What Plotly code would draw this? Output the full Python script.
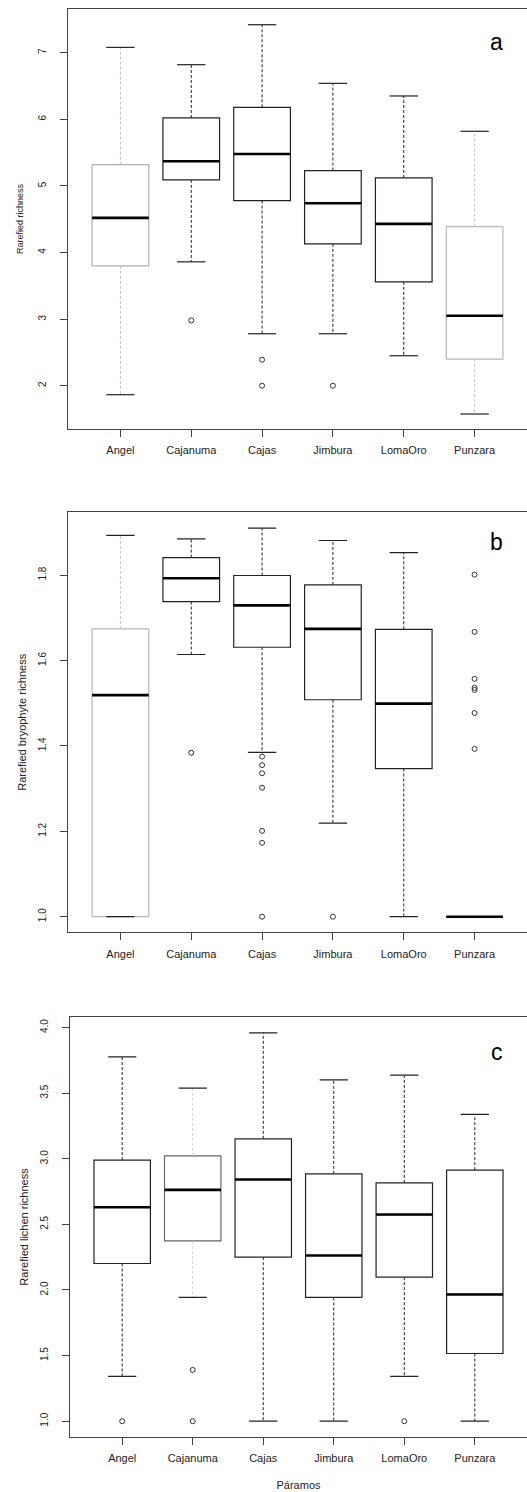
import plotly.graph_objects as go

# ---------------- data ----------------
categories = ["Angel", "Cajanuma", "Cajas", "Jimbura", "LomaOro", "Punzara"]

# panel a: rarefied richness
a_lower = [1.865, 3.86, 2.78, 2.78, 2.45, 1.575]
a_q1 = [3.80, 5.09, 4.78, 4.13, 3.56, 2.40]
a_median = [4.52, 5.37, 5.48, 4.74, 4.43, 3.05]
a_q3 = [5.32, 6.02, 6.18, 5.23, 5.12, 4.39]
a_upper = [7.08, 6.82, 7.42, 6.54, 6.35, 5.82]
a_out_cat = ["Cajanuma", "Cajas", "Cajas", "Jimbura"]
a_out_val = [2.98, 2.39, 2.0, 2.0]
a_ticks = [2, 3, 4, 5, 6, 7]
a_ticktext = ["2", "3", "4", "5", "6", "7"]

# panel b: rarefied bryophyte richness
b_lower = [1.0, 1.614, 1.385, 1.219, 1.0, 1.0]
b_q1 = [1.0, 1.738, 1.631, 1.508, 1.347, 1.0]
b_median = [1.519, 1.7925, 1.729, 1.674, 1.499, 1.0]
b_q3 = [1.674, 1.841, 1.799, 1.777, 1.673, 1.0]
b_upper = [1.893, 1.885, 1.910, 1.881, 1.8525, 1.0]
b_out_cat = ["Cajanuma",
             "Cajas", "Cajas", "Cajas", "Cajas", "Cajas", "Cajas", "Cajas",
             "Jimbura",
             "Punzara", "Punzara", "Punzara", "Punzara", "Punzara", "Punzara", "Punzara"]
b_out_val = [1.384,
             1.375, 1.355, 1.336, 1.302, 1.201, 1.173, 1.0,
             1.0,
             1.801, 1.667, 1.557, 1.536, 1.531, 1.477, 1.393]
b_ticks = [1.0, 1.2, 1.4, 1.6, 1.8]
b_ticktext = ["1.0", "1.2", "1.4", "1.6", "1.8"]

# panel c: rarefied lichen richness
c_lower = [1.341, 1.943, 1.0, 1.0, 1.341, 1.0]
c_q1 = [2.202, 2.374, 2.25, 1.943, 2.098, 1.516]
c_median = [2.631, 2.763, 2.842, 2.263, 2.575, 1.966]
c_q3 = [2.99, 3.022, 3.152, 2.885, 2.816, 2.913]
c_upper = [3.777, 3.538, 3.96, 3.601, 3.637, 3.338]
c_out_cat = ["Angel", "Cajanuma", "Cajanuma", "LomaOro"]
c_out_val = [1.0, 1.391, 1.0, 1.0]
c_ticks = [1.0, 1.5, 2.0, 2.5, 3.0, 3.5, 4.0]
c_ticktext = ["1.0", "1.5", "2.0", "2.5", "3.0", "3.5", "4.0"]

# ---------------- layout geometry (pixels) ----------------
W, H = 527, 1492
FONT = "Liberation Sans, Arial, Helvetica, sans-serif"
DARK = "#222222"
AXIS = "#444444"

panels = [
    dict(sfx="", label="a", lower=a_lower, q1=a_q1, med=a_median, q3=a_q3, upper=a_upper,
         out_cat=a_out_cat, out_val=a_out_val, ticks=a_ticks, ticktext=a_ticktext,
         ytitle="Rarefied richness", ytitle_size=9, ytitle_standoff=11, yrange=[1.35, 7.656],
         left=68, top=9, bottom=429, label_base=51.7,
         faint={"Angel": ("#b0b0b0", "#c0c0c0"), "Punzara": ("#b8b8b8", "#c8c8c8")}),
    dict(sfx="2", label="b", lower=b_lower, q1=b_q1, med=b_median, q3=b_q3, upper=b_upper,
         out_cat=b_out_cat, out_val=b_out_val, ticks=b_ticks, ticktext=b_ticktext,
         ytitle="Rarefied bryophyte richness", ytitle_size=11, ytitle_standoff=8,
         yrange=[0.9635, 1.947],
         left=68, top=512.3, bottom=932.3, label_base=551.7,
         faint={"Angel": ("#b8b8b8", "#c4c4c4")}),
    dict(sfx="3", label="c", lower=c_lower, q1=c_q1, med=c_median, q3=c_q3, upper=c_upper,
         out_cat=c_out_cat, out_val=c_out_val, ticks=c_ticks, ticktext=c_ticktext,
         ytitle="Rarefied lichen richness", ytitle_size=11, ytitle_standoff=8,
         yrange=[0.882, 4.078],
         left=70, top=1017.3, bottom=1436.7, label_base=1061.7,
         faint={"Cajanuma": ("#666666", "#d0d0d0")}),
]

BOXW = 0.8
CAPW = 0.2

fig = go.Figure()
layout_axes = {}
annotations = []

for p in panels:
    xa = "x" + p["sfx"]
    ya = "y" + p["sfx"]
    for i, cat in enumerate(categories):
        box_col, wh_col = p["faint"].get(cat, (DARK, DARK))
        # box body
        fig.add_trace(go.Box(
            x=[i], q1=[p["q1"][i]], median=[p["med"][i]], q3=[p["q3"][i]],
            lowerfence=[p["q1"][i]], upperfence=[p["q3"][i]],
            width=BOXW, whiskerwidth=0, fillcolor="rgba(255,255,255,0)",
            line=dict(color=box_col, width=1.2), boxpoints=False,
            xaxis=xa, yaxis=ya, showlegend=False, hoverinfo="skip"))
        # dashed whiskers
        fig.add_trace(go.Scatter(
            x=[i, i, None, i, i],
            y=[p["q3"][i], p["upper"][i], None, p["q1"][i], p["lower"][i]],
            mode="lines", line=dict(color=wh_col, width=1, dash="3px,2px"),
            xaxis=xa, yaxis=ya, showlegend=False, hoverinfo="skip"))
        # caps
        fig.add_trace(go.Scatter(
            x=[i - CAPW, i + CAPW, None, i - CAPW, i + CAPW],
            y=[p["upper"][i], p["upper"][i], None, p["lower"][i], p["lower"][i]],
            mode="lines", line=dict(color=DARK, width=1.2),
            xaxis=xa, yaxis=ya, showlegend=False, hoverinfo="skip"))
        # thick median
        fig.add_trace(go.Scatter(
            x=[i - BOXW / 2, i + BOXW / 2], y=[p["med"][i], p["med"][i]],
            mode="lines", line=dict(color="#000000", width=2.6),
            xaxis=xa, yaxis=ya, showlegend=False, hoverinfo="skip"))
    # outliers
    fig.add_trace(go.Scatter(
        x=[categories.index(c) for c in p["out_cat"]], y=p["out_val"],
        mode="markers",
        marker=dict(symbol="circle-open", size=5, color="#333333", line=dict(width=1)),
        xaxis=xa, yaxis=ya, showlegend=False, hoverinfo="skip"))

    xdom = [p["left"] / W, 1.0]
    ydom = [1 - p["bottom"] / H, 1 - p["top"] / H]
    xkey = "xaxis" + p["sfx"]
    ykey = "yaxis" + p["sfx"]
    layout_axes[xkey] = dict(
        domain=xdom, anchor=ya, range=[-0.74, 5.74],
        tickmode="array", tickvals=list(range(len(categories))), ticktext=categories,
        showline=True, linecolor=AXIS, linewidth=1, mirror=True,
        ticks="outside", ticklen=7, tickcolor=AXIS, tickwidth=1,
        showgrid=False, zeroline=False,
        tickfont=dict(size=11, color=DARK, family=FONT), ticklabelstandoff=4)
    layout_axes[ykey] = dict(
        domain=ydom, anchor=xa, range=p["yrange"],
        tickmode="array", tickvals=p["ticks"], ticktext=p["ticktext"], tickangle=-90,
        showline=True, linecolor=AXIS, linewidth=1, mirror=False,
        ticks="outside", ticklen=7, tickcolor=AXIS, tickwidth=1,
        showgrid=False, zeroline=False,
        tickfont=dict(size=10, color=DARK, family=FONT), ticklabelstandoff=10,
        title=dict(text=p["ytitle"], font=dict(size=p["ytitle_size"], color=DARK, family=FONT),
                   standoff=p["ytitle_standoff"]))
    annotations.append(dict(
        text=p["label"], x=496.7 / W, y=1 - (p["label_base"] + 5) / H,
        xref="paper", yref="paper", xanchor="center", yanchor="bottom",
        showarrow=False, font=dict(size=23, color="#000000", family=FONT)))

layout_axes["xaxis3"]["title"] = dict(text="Páramos", font=dict(size=11, color=DARK, family=FONT),
                                      standoff=18)

fig.update_layout(
    width=W, height=H, margin=dict(l=0, r=0, t=0, b=0),
    paper_bgcolor="white", plot_bgcolor="white",
    font=dict(family=FONT, color=DARK),
    annotations=annotations, showlegend=False,
    **layout_axes)

# remove the browser's default 8px body margin so the figure fills the window exactly
fig.write_html("out.html",
               config={"displayModeBar": False, "staticPlot": True},
               post_script="document.body.style.margin='0px';document.body.style.overflow='hidden';")
